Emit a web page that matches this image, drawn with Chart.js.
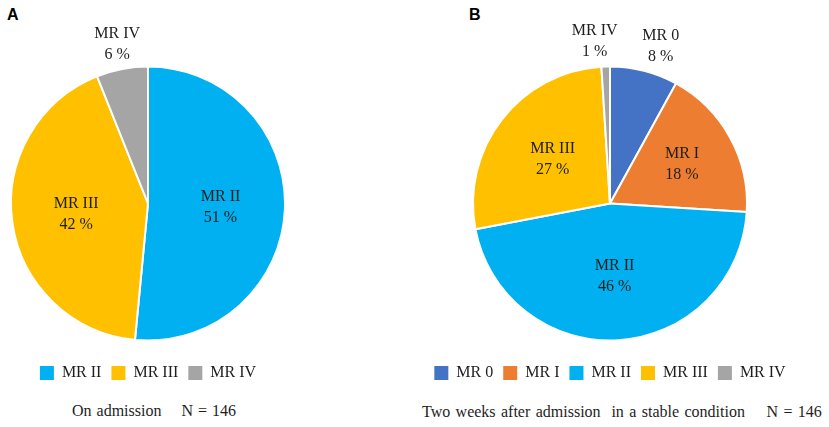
<!DOCTYPE html>
<html>
<head>
<meta charset="utf-8">
<script src="https://cdn.jsdelivr.net/npm/chart.js@4/dist/chart.umd.min.js"></script>
<style>
  html, body { margin: 0; padding: 0; background: #fff; }
  body { width: 829px; height: 427px; position: relative; overflow: hidden; }
  .wrap { position: absolute; top: 0; }
  .panel-tag { position: absolute; font: bold 16px "Liberation Sans", Arial, sans-serif; color: #000; }
  .caption { position: absolute; font: 16px "Liberation Serif", "Times New Roman", serif; color: #1e1e1e; white-space: pre; }
</style>
</head>
<body>
<div class="panel-tag" style="left:7px;top:6px;">A</div>
<div class="panel-tag" style="left:469px;top:6px;">B</div>

<div class="wrap" style="left:-2px;width:300px;height:391px;"><canvas id="pie-a"></canvas></div>
<div class="wrap" style="left:410px;width:400px;height:391px;"><canvas id="pie-b"></canvas></div>

<div class="caption" style="left:72px;top:402px;word-spacing:1px;">On admission    N = 146</div>
<div class="caption" style="left:422px;top:403px;word-spacing:1.4px;">Two weeks after admission  in a stable condition    N = 146</div>

<script>
'use strict';

/* ---- data (percent of patients, N = 146) ---- */
const gradesA = ['MR II', 'MR III', 'MR IV'];
const valuesA = [51, 42, 6];

const gradesB = ['MR 0', 'MR I', 'MR II', 'MR III', 'MR IV'];
const valuesB = [8, 18, 46, 27, 1];

const GRADE_COLORS = {
  'MR 0': '#4472C4',
  'MR I': '#ED7D31',
  'MR II': '#00B0F0',
  'MR III': '#FFC000',
  'MR IV': '#A5A5A5'
};

const SERIF = "'Liberation Serif', 'Times New Roman', serif";
const TEXT = '#1e1e1e';

/* draws "MR II / 51 %" labels, small slices go outside */
const sliceLabels = {
  id: 'sliceLabels',
  afterDatasetsDraw(chart) {
    const ctx = chart.ctx;
    const meta = chart.getDatasetMeta(0);
    const values = chart.data.datasets[0].data;
    const spots = meta.data.map((arc, i) => {
      const v = values[i];
      const mid = (arc.startAngle + arc.endAngle) / 2;
      const outside = v < 10;
      const k = outside ? 1.19 : (v < 20 ? 0.6 : 0.53);
      return {
        outside,
        x: arc.x + Math.cos(mid) * arc.outerRadius * k,
        y: arc.y + Math.sin(mid) * arc.outerRadius * k,
        cx: arc.x
      };
    });
    // push apart outside labels that would collide
    const outs = spots.filter(s => s.outside).sort((a, b) => a.x - b.x);
    for (let i = 1; i < outs.length; i++) {
      const gap = outs[i].x - outs[i - 1].x;
      if (gap < 66) {
        const shift = (66 - gap) / 2;
        outs[i - 1].x -= shift;
        outs[i].x += shift;
      }
    }
    ctx.save();
    ctx.font = '16px ' + SERIF;
    ctx.fillStyle = TEXT;
    ctx.textAlign = 'center';
    ctx.textBaseline = 'middle';
    spots.forEach((s, i) => {
      ctx.fillText(chart.data.labels[i], s.x, s.y - 10);
      ctx.fillText(values[i] + ' %', s.x, s.y + 11);
    });
    ctx.restore();
  }
};

function makePie(id, labels, values) {
  const el = document.getElementById(id);
  return new Chart(el, {
    type: 'pie',
    data: {
      labels,
      datasets: [{
        data: values,
        backgroundColor: labels.map(l => GRADE_COLORS[l]),
        borderColor: '#ffffff',
        borderWidth: 2
      }]
    },
    options: {
      responsive: true,
      maintainAspectRatio: false,
      animation: false,
      radius: 137,
      layout: { padding: { top: 52, bottom: 0, left: 0, right: 0 } },
      plugins: {
        tooltip: { enabled: false },
        legend: {
          position: 'bottom',
          labels: {
            boxWidth: 14,
            boxHeight: 14,
            padding: 10,
            color: TEXT,
            font: { family: SERIF, size: 16 },
            generateLabels: c => Chart.overrides.pie.plugins.legend.labels.generateLabels(c)
              .map(item => Object.assign(item, { lineWidth: 0 }))
          }
        }
      }
    },
    plugins: [sliceLabels]
  });
}

makePie('pie-a', gradesA, valuesA);
makePie('pie-b', gradesB, valuesB);
</script>
</body>
</html>
